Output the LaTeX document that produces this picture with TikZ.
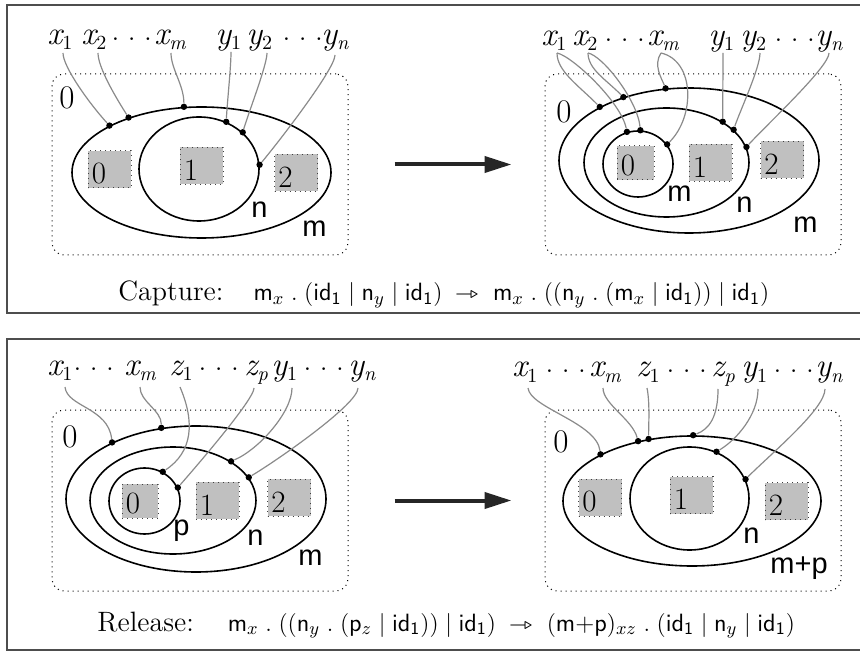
\documentclass[tikz,border=0pt]{standalone}
\usepackage{fontspec}
\usepackage{stmaryrd}
\usepackage{tikz}
\usetikzlibrary{shapes.geometric, arrows.meta, positioning, calc}
\newfontfamily\sanfam{Liberation Sans}
\definecolor{linkGray}{HTML}{8A8A8A}
\definecolor{regionGray}{HTML}{C0C0C0}
\definecolor{frameGray}{HTML}{4D4D4D}
\newcommand{\vsub}[2]{{\itshape #1}\raisebox{-2.5pt}{\fontsize{10}{10}\selectfont #2}}
\newcommand{\tdots}{\raisebox{2pt}{.\hspace{4pt}.\hspace{4pt}.}}
\newcommand{\sid}{\mathsf{id}_\mathsf{1}}

\begin{document}
\begin{tikzpicture}[x=0.5pt, y=-0.5pt,
        outline/.style={draw=frameGray, line width=0.9pt},
        place/.style={draw, dotted, line width=0.5pt, rounded corners=6pt, inner sep=0pt,
            minimum width=148pt, minimum height=90.5pt},
        ctrl/.style={ellipse, draw, line width=0.8pt, inner sep=0pt},
        site/.style={draw=black!75, dotted, line width=0.5pt, fill=regionGray, inner sep=0pt,
            minimum width=21.5pt, minimum height=18.5pt},
        dig/.style={anchor=south west, inner sep=0pt, xshift=2pt, yshift=2pt,
            font=\fontsize{15.5}{15.5}\selectfont},
        port/.style={circle, fill, inner sep=0pt, minimum size=3.2pt},
        link/.style={linkGray, line width=0.6pt},
        var/.style={font=\fontsize{16.5}{16.5}\selectfont, inner sep=0pt, anchor=base west},
        ctl/.style={font=\sanfam\fontsize{14.5}{14.5}\selectfont, inner sep=0pt, anchor=base west},
        rule/.style={-{Triangle[length=13.5pt, width=8pt]}, line width=2pt, black!85,
            shorten <=23pt, shorten >=16.5pt},
        capt/.style={font=\fontsize{12.5}{14}\selectfont, inner sep=0pt, anchor=base west}
    ]
    \useasboundingbox (0,0) rectangle (860,651);

    % frames
    \draw[outline] (870,5) -- (7,5) -- (7,313) -- (870,313);
    \draw[outline] (870,339) -- (7,339) -- (7,650) -- (870,650);

    % ---------- capture, left ----------
    \node[place] (clbox) at (200,164.5) {};
    \node[var] (clroot) at (59,109) {0};
    \node[ctrl, minimum width=129.5pt, minimum height=65.5pt] (clm) at (201.5,172.5) {};
    \node[ctrl, minimum width=60pt, minimum height=52pt] (cln) at (199,169) {};
    \node[site, label={[dig]south west:0}] (cls0) at (109.5,169.5) {};
    \node[site, label={[dig]south west:1}] (cls1) at (201.5,166) {};
    \node[site, label={[dig]south west:2}] (cls2) at (296,173) {};
    \node[ctl] (clmlab) at (302,237) {m};
    \node[ctl] (clnlab) at (251,218) {n};

    \node[var] (clx1) at (47,45) {\vsub{x}{1}};
    \node[var] (clx2) at (81,45) {\vsub{x}{2}};
    \node[var] (cldx) at (111,45) {\tdots};
    \node[var] (clxm) at (154,45) {\vsub{x}{\itshape m}};
    \node[var] (cly1) at (215,45) {\vsub{y}{1}};
    \node[var] (cly2) at (246,45) {\vsub{y}{2}};
    \node[var] (cldy) at (282,45) {\tdots};
    \node[var] (clyn) at (321,45) {\vsub{y}{\itshape n}};

    \coordinate (clwx1) at (63,53);
    \coordinate (clwx2) at (98,53);
    \coordinate (clwxm) at (171,53);
    \coordinate (clwy1) at (231,52);
    \coordinate (clwy2) at (267,53);
    \coordinate (clwyn) at (335,55);

    \node[port] (clpx1) at (clm.153.8) {};
    \node[port] (clpx2) at (clm.143.1) {};
    \node[port] (clpxm) at (clm.105) {};
    \node[port] (clpy1) at (cln.60.9) {};
    \node[port] (clpy2) at (cln.40.6) {};
    \node[port] (clpyn) at (cln.4.8) {};

    \draw[link] (clwx1) .. controls +(0,14) and +(-20,-22) .. (clpx1);
    \draw[link] (clwx2) .. controls +(0,14) and +(-14,-22) .. (clpx2);
    \draw[link] (clwxm) .. controls +(0,16) and +(0,-22) .. (clpxm);
    \draw[link] (clwy1) .. controls +(0,15) and +(1,-20) .. (clpy1);
    \draw[link] (clwy2) .. controls +(0,12) and +(6,-20) .. (clpy2);
    \draw[link] (clwyn) .. controls +(0,14) and +(20,-24) .. (clpyn);

    % ---------- capture, right ----------
    \node[place] (crbox) at (693,164.5) {};
    \node[var] (crroot) at (556,123) {0};
    \node[ctrl, minimum width=130pt, minimum height=72.5pt] (crm) at (689,160.5) {};
    \node[ctrl, minimum width=82.5pt, minimum height=54.5pt] (crn) at (666.5,162.5) {};
    \node[ctrl, minimum width=35pt, minimum height=33pt] (cri) at (638,164) {};
    \node[site, minimum width=18.5pt, minimum height=17pt, label={[dig]south west:0}] (crs0) at (635.5,163) {};
    \node[site, label={[dig]south west:1}] (crs1) at (710.5,163) {};
    \node[site, label={[dig]south west:2}] (crs2) at (782,160) {};
    \node[ctl] (crilab) at (667,202) {m};
    \node[ctl] (crnlab) at (736,213) {n};
    \node[ctl] (crmlab) at (793,233) {m};

    \node[var] (crx1) at (541,46) {\vsub{x}{1}};
    \node[var] (crx2) at (572,46) {\vsub{x}{2}};
    \node[var] (crdx) at (604,46) {\tdots};
    \node[var] (crxm) at (647,46) {\vsub{x}{\itshape m}};
    \node[var] (cry1) at (708,46) {\vsub{y}{1}};
    \node[var] (cry2) at (740,46) {\vsub{y}{2}};
    \node[var] (crdy) at (774,46) {\tdots};
    \node[var] (cryn) at (815,46) {\vsub{y}{\itshape n}};

    \coordinate (crwx1) at (557,53);
    \coordinate (crwx2) at (588,53);
    \coordinate (crwxm) at (661,53);
    \coordinate (crwy1) at (723,53);
    \coordinate (crwy2) at (760,53);
    \coordinate (crwyn) at (829,53);

    \node[port] (crpx1) at (crm.149.7) {};
    \node[port] (crpx2) at (crm.136.1) {};
    \node[port] (crpxm) at (crm.108.8) {};
    \node[port] (cripx1) at (cri.109.5) {};
    \node[port] (cripx2) at (cri.86.5) {};
    \node[port] (cripxm) at (cri.34.6) {};
    \node[port] (crpy1) at (crn.36.6) {};
    \node[port] (crpy2) at (crn.26.4) {};
    \node[port] (crpyn) at (crn.11.2) {};

    \draw[link] (crwx1) .. controls +(0,18) and +(-22,-22) .. (crpx1);
    \draw[link] (crwx1) .. controls +(15,3) and +(-6,-30) .. (cripx1);
    \draw[link] (crwx2) .. controls +(0,16) and +(-18,-18) .. (crpx2);
    \draw[link] (crwx2) .. controls +(15,3) and +(-3,-30) .. (cripx2);
    \draw[link] (crwxm) .. controls +(-8,12) and +(-4,-10) .. (crpxm);
    \draw[link] (crwxm) .. controls +(34,8) and +(28,-28) .. (cripxm);
    \draw[link] (crwy1) .. controls +(0,15) and +(0,-15) .. (crpy1);
    \draw[link] (crwy2) .. controls +(0,15) and +(6,-18) .. (crpy2);
    \draw[link] (crwyn) .. controls +(0,14) and +(20,-22) .. (crpyn);

    \draw[rule] (clbox) -- (crbox);
    \node[capt] (capture) at (118,301) {{\fontsize{14}{16}\selectfont Capture:}\hspace{15pt}$\mathsf{m}_x\;.\;(\sid\mid\mathsf{n}_y\mid\sid)\;\rightarrowtriangle\;\mathsf{m}_x\;.\;((\mathsf{n}_y\;.\;(\mathsf{m}_x\mid\sid))\mid\sid)$};

    % ---------- release, left ----------
    \node[place] (rlbox) at (200,500.5) {};
    \node[var] (rlroot) at (62,447) {0};
    \node[ctrl, minimum width=130pt, minimum height=73pt] (rlm) at (196,499) {};
    \node[ctrl, minimum width=83pt, minimum height=53.5pt] (rln) at (173,500.5) {};
    \node[ctrl, minimum width=35.5pt, minimum height=33pt] (rlp) at (144.5,501) {};
    \node[site, minimum width=18pt, minimum height=17pt, label={[dig]south west:0}] (rls0) at (140,501) {};
    \node[site, label={[dig]south west:1}] (rls1) at (217.5,500.5) {};
    \node[site, label={[dig]south west:2}] (rls2) at (289,497.5) {};
    \node[ctl] (rlplab) at (173,535) {p};
    \node[ctl] (rlnlab) at (247,545) {n};
    \node[ctl] (rlmlab) at (298,565) {m};

    \node[var] (rlx1) at (47,375) {\vsub{x}{1}};
    \node[var] (rldx) at (73,375) {\tdots};
    \node[var] (rlxm) at (124,375) {\vsub{x}{\itshape m}};
    \node[var] (rlz1) at (169,375) {\vsub{z}{1}};
    \node[var] (rldz) at (198,375) {\tdots};
    \node[var] (rlzp) at (244,375) {\vsub{z}{\itshape p}};
    \node[var] (rly1) at (271,375) {\vsub{y}{1}};
    \node[var] (rldy) at (303,375) {\tdots};
    \node[var] (rlyn) at (348,375) {\vsub{y}{\itshape n}};

    \coordinate (rlwx1) at (65,387);
    \coordinate (rlwxm) at (140,387);
    \coordinate (rlwz1) at (180,387);
    \coordinate (rlwzp) at (254,388);
    \coordinate (rlwy1) at (292,388);
    \coordinate (rlwyn) at (358,388);

    \node[port] (rlpx1) at (rlm.146) {};
    \node[port] (rlpxm) at (rlm.116.6) {};
    \node[port] (rlpz1) at (rlp.58) {};
    \node[port] (rlpzp) at (rlp.22.4) {};
    \node[port] (rlpy1) at (rln.34) {};
    \node[port] (rlpyn) at (rln.17.6) {};

    \draw[link] (rlwx1) .. controls +(2,20) and +(-4,-35) .. (rlpx1);
    \draw[link] (rlwxm) .. controls +(0,15) and +(0,-18) .. (rlpxm);
    \draw[link] (rlwz1) .. controls +(15,35) and +(30,-20) .. (rlpz1);
    \draw[link] (rlwzp) .. controls +(0,12) and +(14,-16) .. (rlpzp);
    \draw[link] (rlwy1) .. controls +(0,24) and +(28,-12) .. (rlpy1);
    \draw[link] (rlwyn) .. controls +(0,16) and +(30,-18) .. (rlpyn);

    % ---------- release, right ----------
    \node[place] (rrbox) at (693,500.5) {};
    \node[var] (rrroot) at (553,452) {0};
    \node[ctrl, minimum width=129pt, minimum height=65pt] (rrm) at (692,501) {};
    \node[ctrl, minimum width=59.5pt, minimum height=51.5pt] (rrn) at (689.5,498.5) {};
    \node[site, label={[dig]south west:0}] (rrs0) at (600,497.5) {};
    \node[site, label={[dig]south west:1}] (rrs1) at (691.5,495) {};
    \node[site, label={[dig]south west:2}] (rrs2) at (786.5,501) {};
    \node[ctl] (rrnlab) at (743,543) {n};
    \node[ctl] (rrmlab) at (770,573) {m+p};

    \node[var] (rrx1) at (512,377) {\vsub{x}{1}};
    \node[var] (rrdx) at (545,377) {\tdots};
    \node[var] (rrxm) at (589,377) {\vsub{x}{\itshape m}};
    \node[var] (rrz1) at (636,377) {\vsub{z}{1}};
    \node[var] (rrdz) at (666,377) {\tdots};
    \node[var] (rrzp) at (711,377) {\vsub{z}{\itshape p}};
    \node[var] (rry1) at (741,377) {\vsub{y}{1}};
    \node[var] (rrdy) at (773,377) {\tdots};
    \node[var] (rryn) at (815,377) {\vsub{y}{\itshape n}};

    \coordinate (rrwx1) at (528,388);
    \coordinate (rrwxm) at (603,388);
    \coordinate (rrwz1) at (647,388);
    \coordinate (rrwzp) at (718,389);
    \coordinate (rrwy1) at (758,389);
    \coordinate (rrwyn) at (825,389);

    \node[port] (rrpx1) at (rrm.153.9) {};
    \node[port] (rrpxm) at (rrm.132.5) {};
    \node[port] (rrpz1) at (rrm.125.6) {};
    \node[port] (rrpzp) at (rrm.89.1) {};
    \node[port] (rrpy1) at (rrn.60.3) {};
    \node[port] (rrpyn) at (rrn.19.4) {};

    \draw[link] (rrwx1) .. controls +(2,20) and +(-4,-32) .. (rrpx1);
    \draw[link] (rrwxm) .. controls +(0,16) and +(-6,-22) .. (rrpxm);
    \draw[link] (rrwz1) .. controls +(3,15) and +(0,-15) .. (rrpz1);
    \draw[link] (rrwzp) .. controls +(0,28) and +(16,-6) .. (rrpzp);
    \draw[link] (rrwy1) .. controls +(0,26) and +(20,-12) .. (rrpy1);
    \draw[link] (rrwyn) .. controls +(0,20) and +(26,-26) .. (rrpyn);

    \draw[rule] (rlbox) -- (rrbox);
    \node[capt] (release) at (97,631) {{\fontsize{14}{16}\selectfont Release:}\hspace{17pt}$\mathsf{m}_x\;.\;((\mathsf{n}_y\;.\;(\mathsf{p}_z\mid\sid))\mid\sid)\;\rightarrowtriangle\;(\textsf{m+p})_{xz}\;.\;(\sid\mid\mathsf{n}_y\mid\sid)$};
\end{tikzpicture}
\end{document}
